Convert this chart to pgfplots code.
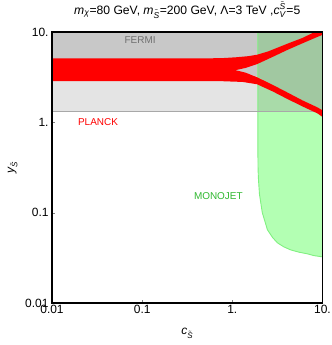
\documentclass[border=0pt]{standalone}
\usepackage{fontspec}
\setmainfont{Liberation Sans}
\usepackage{amsmath}
\usepackage{pgfplots}
\pgfplotsset{compat=1.18}

\definecolor{fermigray}{HTML}{C8C8C8}
\definecolor{planckgray}{HTML}{E4E4E4}
\definecolor{planckline}{HTML}{A8A8A8}
\definecolor{monogreen}{HTML}{B3FFB3}
\definecolor{greenlight}{HTML}{A9DBA9}
\definecolor{greendark}{HTML}{A1C8A1}
\definecolor{greenedge}{HTML}{80F080}
\definecolor{labelgreen}{HTML}{30B830}
\definecolor{labelgray}{HTML}{707070}

\newcommand{\St}{\tilde{\text{\textit{S}}}}

\begin{document}
\begin{tikzpicture}
\begin{axis}[
  at={(0,0)}, anchor=south west,
  scale only axis,
  width=270.5bp, height=271bp,
  xmode=log, ymode=log,
  xmin=0.01, xmax=10, ymin=0.01, ymax=10,
  xtick={0.01,0.1,1,10}, xticklabels={0.01,0.1,1.,10.},
  ytick={0.01,0.1,1,10}, yticklabels={0.01,0.1,1.,10.},
  xminorticks=false, yminorticks=false,
  xtick pos=bottom, ytick pos=left,
  tick align=inside,
  major tick length=3bp,
  tick label style={font=\fontsize{12}{12}\selectfont},
  xticklabel style={yshift=1bp},
  axis line style={line width=1.1pt},
  axis on top,
  title={\textit{m}$_{\text{\textit{χ}}}$=80 GeV, \textit{m}$_{\St}$=200 GeV, Λ=3 TeV ,\textit{c}$_{\text{\textit{V}}}^{\St}$=5},
  title style={font=\fontsize{12.2}{12}\selectfont, at={(axis description cs:0.5,1.044)}, anchor=base},
  xlabel={\textit{c}$_{\St}$},
  xlabel style={font=\fontsize{12}{12}\selectfont, at={(axis description cs:0.5,-0.118)}, anchor=base},
  ylabel={\textit{y}$_{\St}$},
  ylabel style={font=\fontsize{12}{12}\selectfont, at={(axis description cs:-0.14,0.5)}, anchor=base},
]
% PLANCK band (light gray)
\addplot[fill=planckgray, draw=none] coordinates {
  (0.01,1.33) (1.92,1.33) (1.92,10) (0.01,10)} -- cycle;
% FERMI (dark gray)
\addplot[fill=fermigray, draw=none] coordinates {
  (0.01,10) (1.92,10) (1.92,3.2) (1.5,3.45) (1.08,3.78) (0.01,3.78)} -- cycle;
% MONOJET, white background
\addplot[fill=monogreen, draw=none] coordinates {
  (1.92,1.33) (1.92,0.5) (1.93,0.3) (1.95,0.233) (2.0,0.16) (2.15,0.1)
  (2.45,0.0647) (2.8,0.053) (3.16,0.0464) (3.7,0.042) (4.41,0.0388)
  (5.5,0.0365) (6.81,0.035) (8,0.0335) (10,0.0324) (10,1.33)} -- cycle;
% MONOJET over PLANCK
\addplot[fill=greenlight, draw=none] coordinates {
  (1.92,1.33) (10,1.33) (10,10) (1.92,10)} -- cycle;
% MONOJET over FERMI
\addplot[fill=greendark, draw=none] coordinates {
  (1.92,10) (10,10) (10,1.36) (8.73,1.47) (6,1.75) (4.05,2.15) (2.8,2.6)
  (1.92,3.2)} -- cycle;
% MONOJET edge
\addplot[color=greenedge, line width=0.9pt] coordinates {
  (1.92,10) (1.92,0.5) (1.93,0.3) (1.95,0.233) (2.0,0.16) (2.15,0.1)
  (2.45,0.0647) (2.8,0.053) (3.16,0.0464) (3.7,0.042) (4.41,0.0388)
  (5.5,0.0365) (6.81,0.035) (8,0.0335) (10,0.0324)};
% PLANCK line
\addplot[color=planckline, line width=0.7pt] coordinates {(0.01,1.33) (10,1.33)};
% relic density band (red)
\addplot[fill=red, draw=none] coordinates {
  (0.01,5.1) (0.5,5.1) (0.8,5.15) (1.1,5.25) (1.5,5.4) (1.88,5.6)
  (2.5,6.1) (4.05,7.4) (6,8.6) (8.2,10) (9,10.8) (10,10.8)
  (10,9.3) (8.73,8.8) (6,7.5) (4.05,6.31) (2.8,5.3) (1.88,4.41)
  (1.4,4.0) (1.08,3.78)
  (1.4,3.55) (1.88,3.16) (2.8,2.6) (4.05,2.15) (6,1.75) (8.73,1.47) (10,1.36)
  (10,1.15) (8.73,1.26) (6,1.5) (4.05,1.82) (2.8,2.2) (1.88,2.64)
  (1.3,2.8) (0.8,2.85) (0.01,2.85)} -- cycle;
\node[font=\fontsize{10}{10}\selectfont, text=labelgray] at (axis cs:0.095,8.15) {FERMI};
\node[font=\fontsize{10}{10}\selectfont, text=red] at (axis cs:0.0324,1.0) {PLANCK};
\node[font=\fontsize{10}{10}\selectfont, text=labelgreen] at (axis cs:0.70,0.151) {MONOJET};
\end{axis}
\pgfresetboundingbox
\path[use as bounding box] (-52bp,-42bp) rectangle (280bp,303bp);
\end{tikzpicture}
\end{document}
